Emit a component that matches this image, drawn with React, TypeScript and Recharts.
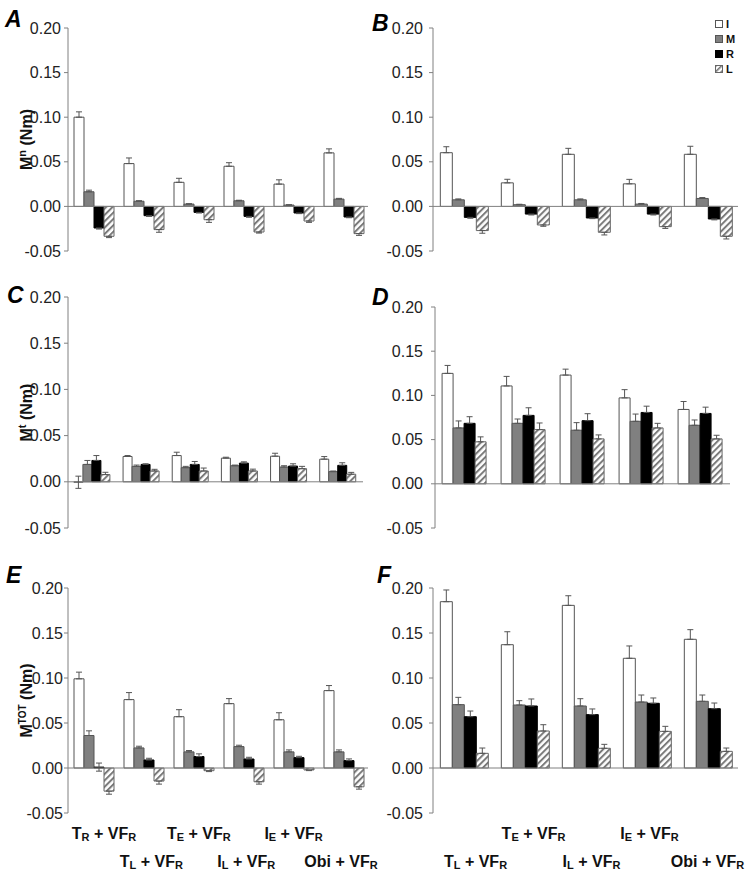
import React from 'react';
import { BarChart, Bar, XAxis, YAxis, ReferenceLine, ErrorBar } from 'recharts';

const FONT = '"Liberation Sans", Arial, Helvetica, sans-serif';

// Categories and tick-label parts
const ALL_CATS = ['TR', 'TL', 'TE', 'IL', 'IE', 'Obi'];
const CAT_MAIN = ['T', 'T', 'T', 'I', 'I', 'Obi'];
const CAT_SUB = ['R', 'L', 'E', 'L', 'E', ''];
const CATS6 = ['TR', 'TL', 'TE', 'IL', 'IE', 'Obi'];
const CATS5 = ['TL', 'TE', 'IL', 'IE', 'Obi'];
const Y_TICKS = [-0.05, 0, 0.05, 0.1, 0.15, 0.2];
const SERIES = ['I', 'M', 'R', 'L'];

// Panel A: M^n (6 categories)
const A_I = [0.1, 0.048, 0.027, 0.045, 0.025, 0.06];
const A_Ie = [0.006, 0.0063, 0.0045, 0.004, 0.0048, 0.0045];
const A_M = [0.0164, 0.0058, 0.0026, 0.0063, 0.0015, 0.0082];
const A_Me = [0.0018, 0.0006, 0.0004, 0.0006, 0.0004, 0.0008];
const A_R = [-0.0242, -0.0104, -0.0067, -0.0112, -0.0074, -0.0119];
const A_Re = [0.0012, 0.0008, 0.0007, 0.001, 0.0007, 0.0008];
const A_L = [-0.0335, -0.026, -0.0149, -0.0287, -0.0164, -0.0305];
const A_Le = [0.0015, 0.003, 0.003, 0.0012, 0.0015, 0.002];

// Panel B: M^n (5 categories)
const B_I = [0.0602, 0.0264, 0.0584, 0.0253, 0.0584];
const B_Ie = [0.0067, 0.004, 0.0067, 0.005, 0.009];
const B_M = [0.0074, 0.0019, 0.0074, 0.0026, 0.0089];
const B_Me = [0.001, 0.0005, 0.001, 0.0007, 0.001];
const B_R = [-0.0123, -0.0086, -0.013, -0.0086, -0.0141];
const B_Re = [0.001, 0.001, 0.0007, 0.001, 0.001];
const B_L = [-0.0271, -0.0208, -0.029, -0.0227, -0.0335];
const B_Le = [0.003, 0.0015, 0.003, 0.002, 0.003];

// Panel C: M^t (6 categories)
const C_I = [-0.0005, 0.0274, 0.0284, 0.0256, 0.0277, 0.0245];
const C_Ie = [0.0066, 0.001, 0.0036, 0.001, 0.0032, 0.0028];
const C_M = [0.0188, 0.0167, 0.0153, 0.0174, 0.016, 0.011];
const C_Me = [0.0043, 0.0014, 0.0014, 0.0007, 0.0014, 0.0007];
const C_R = [0.0231, 0.0188, 0.0188, 0.0202, 0.017, 0.0178];
const C_Re = [0.0053, 0.0007, 0.0032, 0.0014, 0.0025, 0.0028];
const C_L = [0.0078, 0.0117, 0.0117, 0.0117, 0.0142, 0.0082];
const C_Le = [0.0025, 0.0018, 0.0032, 0.002, 0.0025, 0.002];

// Panel D: M^t (5 categories)
const D_I = [0.1249, 0.1107, 0.123, 0.0972, 0.0841];
const D_Ie = [0.009, 0.0108, 0.0067, 0.0093, 0.009];
const D_M = [0.0632, 0.0684, 0.0606, 0.0707, 0.0662];
const D_Me = [0.0079, 0.0049, 0.0086, 0.0082, 0.006];
const D_R = [0.0684, 0.0774, 0.0714, 0.0807, 0.0796];
const D_Re = [0.0075, 0.0086, 0.0079, 0.0071, 0.0071];
const D_L = [0.0475, 0.0613, 0.0508, 0.0632, 0.0508];
const D_Le = [0.0056, 0.0075, 0.0045, 0.0052, 0.0041];

// Panel E: M^TOT (6 categories)
const E_I = [0.0991, 0.076, 0.057, 0.0715, 0.0536, 0.086];
const E_Ie = [0.0074, 0.0078, 0.0078, 0.0056, 0.0078, 0.0056];
const E_M = [0.0361, 0.0223, 0.0179, 0.0238, 0.0179, 0.0179];
const E_Me = [0.0052, 0.0019, 0.0015, 0.0015, 0.0022, 0.0022];
const E_R = [0.001, 0.0089, 0.0127, 0.01, 0.0115, 0.0082];
const E_Re = [0.0045, 0.0019, 0.003, 0.0019, 0.0015, 0.0019];
const E_L = [-0.0257, -0.0145, -0.003, -0.0153, -0.0022, -0.0209];
const E_Le = [0.0034, 0.0034, 0.001, 0.0026, 0.0007, 0.0026];

// Panel F: M^TOT (5 categories)
const F_I = [0.1848, 0.137, 0.1807, 0.1219, 0.143];
const F_Ie = [0.013, 0.0144, 0.0107, 0.0137, 0.0107];
const F_M = [0.0704, 0.07, 0.0689, 0.0733, 0.0741];
const F_Me = [0.0081, 0.0048, 0.0081, 0.0078, 0.007];
const F_R = [0.057, 0.0689, 0.0593, 0.0719, 0.0659];
const F_Re = [0.0063, 0.0078, 0.0063, 0.0059, 0.0063];
const F_L = [0.0163, 0.0411, 0.0219, 0.0407, 0.0185];
const F_Le = [0.0059, 0.007, 0.0044, 0.0056, 0.0037];

// Error bar hidden behind the bar: only the part outside the bar is shown
function vis(v: number, e: number): number[] {
  if (v >= 0) return v - e > 0 ? [0, e] : [e, e];
  return v + e < 0 ? [e, 0] : [e, e];
}

const STYLES: Record<string, { fill: (id: string) => string; stroke: string }> = {
  I: { fill: () => '#ffffff', stroke: '#555555' },
  M: { fill: () => '#808080', stroke: '#555555' },
  R: { fill: () => '#000000', stroke: '#000000' },
  L: { fill: (id) => `url(#hatch-${id})`, stroke: '#666666' },
};

function YLab(props: any) {
  const { viewBox, sup } = props;
  const cx = 31.5;
  const cy = viewBox.y + viewBox.height / 2;
  return (
    <text
      x={cx}
      y={cy}
      transform={`rotate(-90 ${cx} ${cy})`}
      textAnchor="middle"
      fontFamily={FONT}
      fontWeight="bold"
      fontSize={16}
      fill="#111"
      style={{ whiteSpace: 'pre' }}
    >
      M
      <tspan fontSize={sup.length > 1 ? 10 : 11} dy={-6}>{sup}</tspan>
      <tspan dy={6}> (Nm)</tspan>
    </text>
  );
}

function XTick(props: any) {
  const { x, y, payload, index, dxBase, dxStep } = props;
  const k = ALL_CATS.indexOf(payload.value);
  const upper = k % 2 === 0;
  const main = CAT_MAIN[k];
  const sub = CAT_SUB[k];
  const dx = dxBase + dxStep * index;
  return (
    <text
      x={x + dx}
      y={y + (upper ? 26 : 54)}
      textAnchor="middle"
      fontFamily={FONT}
      fontWeight="bold"
      fontSize={16}
      fill="#111"
      style={{ whiteSpace: 'pre' }}
    >
      {main}
      {sub ? <tspan fontSize={11} dy={2}>{sub}</tspan> : null}
      <tspan dy={sub ? -2 : 0}> + VF</tspan>
      <tspan fontSize={11} dy={2}>R</tspan>
    </text>
  );
}

type PanelDef = {
  id: string;
  cats: string[];
  vals: Record<string, number[]>;
  errs: Record<string, number[]>;
  left: number;
  top: number;
  width: number;
  height: number;
  margin: { top: number; right: number; bottom: number; left: number };
  yw: number;
  tm: number;
  sup?: string;
  showX?: boolean;
  dxBase?: number;
  dxStep?: number;
};

function Panel({ p }: { p: PanelDef }) {
  const rows = p.cats.map((c, i) => {
    const r: any = { cat: c };
    SERIES.forEach((s) => {
      r[s] = p.vals[s][i];
      r[s + 'e'] = vis(p.vals[s][i], p.errs[s][i]);
    });
    return r;
  });
  return (
    <div style={{ position: 'absolute', left: p.left, top: p.top }}>
      <BarChart
        width={p.width}
        height={p.height}
        data={rows}
        margin={p.margin}
        barCategoryGap="12%"
        barGap={0}
      >
        <defs>
          <pattern
            id={`hatch-${p.id}`}
            patternUnits="userSpaceOnUse"
            width={4.5}
            height={4.5}
            patternTransform="rotate(45)"
          >
            <rect width={4.5} height={4.5} fill="#ffffff" />
            <rect width={2} height={4.5} fill="#7a7a7a" />
          </pattern>
        </defs>
        <XAxis
          dataKey="cat"
          hide={!p.showX}
          axisLine={false}
          tickLine={false}
          tickSize={0}
          tickMargin={0}
          height={57}
          interval={0}
          tick={(tp: any) => <XTick {...tp} dxBase={p.dxBase || 0} dxStep={p.dxStep || 0} />}
        />
        <YAxis
          domain={[-0.05, 0.2]}
          ticks={Y_TICKS}
          interval={0}
          allowDataOverflow
          width={p.yw}
          tickFormatter={(v: number) => v.toFixed(2)}
          axisLine={{ stroke: '#808080' }}
          tickLine={{ stroke: '#808080' }}
          tickSize={4}
          tickMargin={p.tm}
          tick={{ fill: '#222', fontSize: 16, fontFamily: FONT }}
          label={p.sup ? <YLab sup={p.sup} /> : undefined}
        />
        <ReferenceLine y={0} stroke="#808080" />
        {SERIES.map((s) => (
          <Bar
            key={s}
            dataKey={s}
            fill={STYLES[s].fill(p.id)}
            stroke={STYLES[s].stroke}
            strokeWidth={1}
            isAnimationActive={false}
          >
            <ErrorBar dataKey={s + 'e'} width={3} stroke="#555" strokeWidth={1} direction="y" />
          </Bar>
        ))}
      </BarChart>
    </div>
  );
}

const PANELS: PanelDef[] = [
  {
    id: 'A', cats: CATS6,
    vals: { I: A_I, M: A_M, R: A_R, L: A_L }, errs: { I: A_Ie, M: A_Me, R: A_Re, L: A_Le },
    left: 0, top: 0, width: 372, height: 262,
    margin: { top: 28, right: 4, bottom: 11, left: 0 }, yw: 68, tm: 3, sup: 'n',
  },
  {
    id: 'B', cats: CATS5,
    vals: { I: B_I, M: B_M, R: B_R, L: B_L }, errs: { I: B_Ie, M: B_Me, R: B_Re, L: B_Le },
    left: 372, top: 0, width: 377, height: 262,
    margin: { top: 28, right: 11, bottom: 11, left: 0 }, yw: 61, tm: 6,
  },
  {
    id: 'C', cats: CATS6,
    vals: { I: C_I, M: C_M, R: C_R, L: C_L }, errs: { I: C_Ie, M: C_Me, R: C_Re, L: C_Le },
    left: 0, top: 270, width: 372, height: 276,
    margin: { top: 27, right: 9, bottom: 18, left: 0 }, yw: 68, tm: 3, sup: 't',
  },
  {
    id: 'D', cats: CATS5,
    vals: { I: D_I, M: D_M, R: D_R, L: D_L }, errs: { I: D_Ie, M: D_Me, R: D_Re, L: D_Le },
    left: 372, top: 270, width: 377, height: 276,
    margin: { top: 37, right: 19, bottom: 18, left: 0 }, yw: 63, tm: 8,
  },
  {
    id: 'E', cats: CATS6,
    vals: { I: E_I, M: E_M, R: E_R, L: E_L }, errs: { I: E_Ie, M: E_Me, R: E_Re, L: E_Le },
    left: 0, top: 540, width: 390, height: 330,
    margin: { top: 48, right: 22, bottom: 0, left: 0 }, yw: 68, tm: 1, sup: 'TOT',
    showX: true, dxBase: 11, dxStep: -2.6,
  },
  {
    id: 'F', cats: CATS5,
    vals: { I: F_I, M: F_M, R: F_R, L: F_L }, errs: { I: F_Ie, M: F_Me, R: F_Re, L: F_Le },
    left: 372, top: 540, width: 377, height: 330,
    margin: { top: 48, right: 11, bottom: 0, left: 0 }, yw: 61, tm: 6,
    showX: true, dxBase: 12, dxStep: -3,
  },
];

const LETTERS = [
  { t: 'A', x: 5, y: 27 },
  { t: 'B', x: 372, y: 31 },
  { t: 'C', x: 7, y: 303 },
  { t: 'D', x: 372, y: 305 },
  { t: 'E', x: 6, y: 583 },
  { t: 'F', x: 377, y: 583 },
];

export default function App() {
  return (
    <div style={{ position: 'absolute', left: 0, top: 0, width: 749, height: 870, background: '#fff', overflow: 'hidden' }}>
      {PANELS.map((p) => (
        <Panel key={p.id} p={p} />
      ))}
      <svg width={749} height={870} style={{ position: 'absolute', left: 0, top: 0, pointerEvents: 'none' }}>
        <defs>
          <pattern id="hatch-legend" patternUnits="userSpaceOnUse" width={4} height={4} patternTransform="rotate(45)">
            <rect width={4} height={4} fill="#ffffff" />
            <rect width={1.6} height={4} fill="#7a7a7a" />
          </pattern>
        </defs>
        {LETTERS.map((l) => (
          <text key={l.t} x={l.x} y={l.y} fontFamily={FONT} fontWeight="bold" fontStyle="italic" fontSize={23} fill="#000">
            {l.t}
          </text>
        ))}
        {SERIES.map((s, i) => (
          <g key={s}>
            <rect
              x={715.5}
              y={20.5 + i * 15}
              width={7}
              height={7}
              fill={s === 'L' ? 'url(#hatch-legend)' : STYLES[s].fill('legend')}
              stroke={STYLES[s].stroke}
            />
            <text x={726} y={28 + i * 15} fontFamily={FONT} fontWeight="bold" fontSize={11} fill="#111">
              {s}
            </text>
          </g>
        ))}
      </svg>
    </div>
  );
}
